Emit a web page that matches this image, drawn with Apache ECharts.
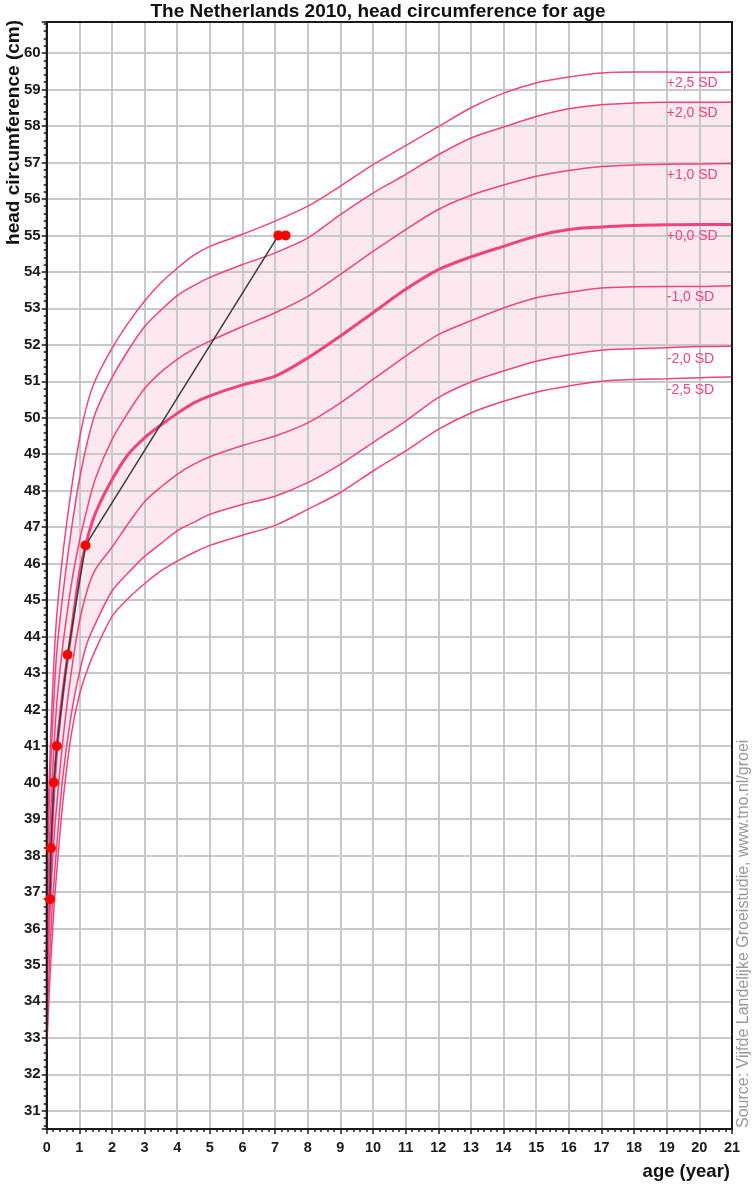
<!DOCTYPE html>
<html><head><meta charset="utf-8">
<script src="https://cdn.jsdelivr.net/npm/echarts@6/dist/echarts.min.js"></script>
<style>html,body{margin:0;padding:0;background:#fff}#c{width:756px;height:1187px}</style>
</head><body><div id="c"></div>
<script>
// ---- data ----
const ages = [0, 0.08, 0.17, 0.25, 0.33, 0.5, 0.75, 1, 1.25, 1.5, 2, 2.5, 3, 3.5, 4, 4.5, 5, 6, 7, 8, 9, 10, 11, 12, 13, 14, 15, 16, 17, 18, 19, 20, 21];
const sdP25 = [37.7, 40.2, 42.3, 43.8, 44.8, 46.3, 48.0, 49.4, 50.4, 51.05, 51.9, 52.6, 53.2, 53.7, 54.1, 54.45, 54.7, 55.03, 55.39, 55.8, 56.35, 56.94, 57.46, 57.98, 58.5, 58.9, 59.18, 59.34, 59.45, 59.48, 59.48, 59.47, 59.48];
const sdP20 = [37.2, 39.5, 41.4, 42.8, 43.8, 45.2, 46.9, 48.3, 49.35, 50.15, 51.1, 51.85, 52.5, 52.95, 53.35, 53.62, 53.85, 54.2, 54.52, 54.93, 55.57, 56.16, 56.67, 57.21, 57.67, 57.97, 58.26, 58.47, 58.58, 58.63, 58.65, 58.65, 58.65];
const sdP10 = [36.2, 38.3, 40.1, 41.4, 42.4, 43.8, 45.4, 46.6, 47.55, 48.35, 49.4, 50.15, 50.8, 51.25, 51.6, 51.88, 52.1, 52.5, 52.88, 53.33, 53.93, 54.56, 55.16, 55.71, 56.1, 56.38, 56.62, 56.78, 56.89, 56.93, 56.95, 56.96, 56.97];
const sd00  = [35.2, 37.0, 38.9, 40.2, 41.1, 42.5, 44.1, 45.7, 46.7, 47.4, 48.3, 49.0, 49.45, 49.8, 50.12, 50.4, 50.6, 50.9, 51.14, 51.64, 52.24, 52.88, 53.52, 54.06, 54.41, 54.7, 54.98, 55.16, 55.23, 55.27, 55.29, 55.3, 55.3];
const sdM10 = [34.2, 36.0, 37.7, 38.8, 39.6, 41.2, 43.0, 44.4, 45.3, 45.85, 46.45, 47.1, 47.7, 48.1, 48.45, 48.72, 48.93, 49.24, 49.5, 49.86, 50.41, 51.05, 51.69, 52.28, 52.66, 53.01, 53.29, 53.44, 53.56, 53.59, 53.6, 53.6, 53.62];
const sdM20 = [33.2, 35.0, 36.6, 37.6, 38.5, 40.2, 41.85, 43.0, 43.85, 44.37, 45.25, 45.75, 46.2, 46.55, 46.9, 47.13, 47.35, 47.62, 47.85, 48.22, 48.72, 49.32, 49.91, 50.55, 50.98, 51.28, 51.55, 51.73, 51.85, 51.89, 51.92, 51.95, 51.96];
const sdM25 = [32.6, 34.3, 35.8, 36.9, 37.8, 39.5, 41.3, 42.4, 43.1, 43.65, 44.55, 45.05, 45.45, 45.8, 46.07, 46.3, 46.5, 46.78, 47.05, 47.49, 47.95, 48.54, 49.09, 49.68, 50.13, 50.45, 50.7, 50.87, 51.0, 51.05, 51.07, 51.1, 51.12];
const curveNames = ['+2,5 SD', '+2,0 SD', '+1,0 SD', '+0,0 SD', '-1,0 SD', '-2,0 SD', '-2,5 SD'];
const patientAges = [0.1, 0.13, 0.22, 0.31, 0.64, 1.19, 7.1, 7.32];
const patientHC   = [36.8, 38.2, 40.0, 41.0, 43.5, 46.5, 55.0, 55.0];
const labelAge = 19;
const titleText = 'The Netherlands 2010, head circumference for age';
const yName = 'head circumference (cm)';
const xName = 'age (year)';
const sourceText = 'Source: Vijfde Landelijke Groeistudie, www.tno.nl/groei';

// ---- chart ----
const PINK = '#f0437d';
const FONT = '"Liberation Sans", Arial, sans-serif';
const SMOOTH = 0.3;
const curves = [sdP25, sdP20, sdP10, sd00, sdM10, sdM20, sdM25];
const pts = arr => ages.map((a, i) => [a, arr[i]]);
const li = ages.indexOf(labelAge);

const series = [];
// shaded band between -2 SD and +2 SD: pink area under +2 SD, white area under -2 SD on top of it
series.push({
  type: 'line', name: 'bandTop', data: pts(sdP20), symbol: 'none',
  lineStyle: {width: 0, opacity: 0}, areaStyle: {color: '#fde8ef', opacity: 1, origin: 'start'},
  smooth: SMOOTH, z: 1, silent: true
});
series.push({
  type: 'line', name: 'bandBottom', data: pts(sdM20), symbol: 'none',
  lineStyle: {width: 0, opacity: 0}, areaStyle: {color: '#ffffff', opacity: 1, origin: 'start'},
  smooth: SMOOTH, z: 1.5, silent: true
});
curves.forEach((arr, k) => {
  series.push({
    type: 'line', name: curveNames[k], data: pts(arr), symbol: 'none',
    smooth: SMOOTH, z: 3,
    lineStyle: {color: PINK, width: k === 3 ? 3 : 1.5},
    markPoint: {
      symbol: 'circle', symbolSize: 0, silent: true, animation: false,
      label: {show: true, position: 'right', distance: 0, offset: [0, 11],
        formatter: curveNames[k], color: PINK, fontSize: 14, fontFamily: FONT},
      data: [{coord: [ages[li], arr[li]], name: curveNames[k]}]
    }
  });
});
series.push({
  type: 'line', name: 'patient', data: patientAges.map((a, i) => [a, patientHC[i]]),
  symbol: 'circle', symbolSize: 10, z: 5,
  lineStyle: {color: '#3a3a3a', width: 1.5},
  itemStyle: {color: '#ff0000', borderWidth: 0}
});

const axisCol = '#1a1a1a';
const option = {
  animation: false,
  backgroundColor: '#ffffff',
  title: {text: titleText, left: 'center', top: -3,
    textStyle: {fontSize: 19, fontWeight: 'bold', color: '#111', fontFamily: FONT}},
  grid: {left: 46.7, right: 24, top: 22, bottom: 58, show: true,
    borderColor: axisCol, borderWidth: 2, z: 4},
  xAxis: {
    type: 'value', min: 0, max: 21, interval: 1, z: 2,
    axisLine: {show: true, onZero: false, lineStyle: {color: axisCol, width: 2}},
    axisTick: {show: true, length: 5, lineStyle: {color: axisCol, width: 1.5}},
    minorTick: {show: true, splitNumber: 5, length: 3, lineStyle: {color: axisCol, width: 1.5}},
    axisLabel: {fontSize: 14.5, fontWeight: 'bold', color: axisCol, margin: 11, fontFamily: FONT},
    splitLine: {show: true, lineStyle: {color: '#c8c8c8', width: 2}}
  },
  yAxis: {
    type: 'value', min: 30.5, max: 60.85, splitNumber: 30, minInterval: 1, maxInterval: 1, z: 2,
    axisLine: {show: true, onZero: false, lineStyle: {color: axisCol, width: 2}},
    axisTick: {show: true, length: 5, lineStyle: {color: axisCol, width: 1.5}},
    minorTick: {show: true, splitNumber: 5, length: 3, lineStyle: {color: axisCol, width: 1.5}},
    axisLabel: {fontSize: 15, fontWeight: 'bold', color: axisCol, margin: 6, fontFamily: FONT,
      showMinLabel: false, showMaxLabel: false},
    splitLine: {show: true, lineStyle: {color: '#c8c8c8', width: 2}}
  },
  graphic: [
    {type: 'text', x: 14, y: 20, rotation: Math.PI / 2, z: 10,
      style: {text: yName, font: 'bold 19px ' + FONT, fill: '#111', align: 'right', verticalAlign: 'middle'}},
    {type: 'text', x: 730, y: 1172, z: 10,
      style: {text: xName, font: 'bold 18.5px ' + FONT, fill: '#111', align: 'right', verticalAlign: 'middle'}},
    {type: 'text', x: 744, y: 1128, rotation: Math.PI / 2, z: 10,
      style: {text: sourceText, font: '16px ' + FONT, fill: '#999999', align: 'left', verticalAlign: 'middle'}}
  ],
  series: series
};
const chart = echarts.init(document.getElementById('c'));
chart.setOption(option);
</script>
</body></html>
